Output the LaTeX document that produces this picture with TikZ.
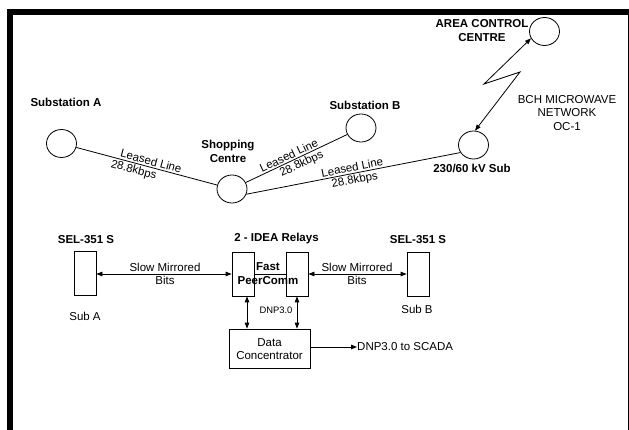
\documentclass[tikz,border=0pt]{standalone}
\usepackage{fontspec}
\setmainfont{Liberation Sans}
\usetikzlibrary{arrows.meta,shapes.geometric}
\begin{document}
\begin{tikzpicture}[x=1pt,y=-1pt,
  site/.style={draw, ellipse, minimum width=30pt, minimum height=28pt, inner sep=0pt, line width=0.8pt},
  lbl/.style={font=\fontsize{11.5}{13.5}\selectfont, align=center, inner sep=0pt},
  blbl/.style={font=\fontsize{11.5}{14}\selectfont\bfseries, align=center, inner sep=0pt},
  slbl/.style={font=\fontsize{9.4}{11}\selectfont, inner sep=0pt},
  relaybox/.style={draw, minimum width=22pt, minimum height=44pt, inner sep=0pt, line width=0.8pt},
  wire/.style={line width=0.8pt},
  dbl/.style={wire, {Triangle[length=6pt,width=4.5pt]}-{Triangle[length=6pt,width=4.5pt]}},
  arr/.style={wire, -{Triangle[length=6pt,width=4.5pt]}}
]
\useasboundingbox (0,0) rectangle (629,430);
\fill[white] (0,0) rectangle (629,430);
% frame
\fill[black] (7,9) rectangle (13,430);
\fill[black] (7,9) rectangle (629,15);
\fill[black] (627.5,9) rectangle (629,430);

% sites
\node[site] (A) at (61.5,143.5) {};
\node[site] (SC) at (232,189) {};
\node[site] (B) at (361,128) {};
\node[site] (S230) at (473.5,145) {};
\node[site] (ACC) at (544.5,31.5) {};

\node[blbl] (tA) at (66,102) {Substation A};
\node[blbl] (tSC) at (228,151) {Shopping\\Centre};
\node[blbl] (tB) at (365,105) {Substation B};
\node[blbl] (t230) at (472,168) {230/60 kV Sub};
\node[blbl] (tACC) at (482,30.5) {AREA CONTROL\\CENTRE};
\node[lbl] (tBCH) at (567,113) {BCH MICROWAVE\\NETWORK\\OC-1};

\draw[wire] (A) -- (SC)
  node[pos=0.52, sloped, lbl, above=1.5pt] {Leased Line}
  node[pos=0.42, sloped, lbl, below=1.5pt] {28.8kbps};
\draw[wire] (SC) -- (B)
  node[pos=0.45, sloped, lbl, above=1.5pt] {Leased Line}
  node[pos=0.52, sloped, lbl, below=1.5pt] {28.8kbps};
\draw[wire] (SC.-20) -- (S230.210)
  node[pos=0.5, sloped, lbl, above=1.5pt] {Leased Line}
  node[pos=0.5, sloped, lbl, below=1.5pt] {28.8kbps};

\coordinate (z1) at (484,84);
\coordinate (z2) at (520,72);
\draw[dbl] (ACC.207) -- (z1) -- (z2) -- (S230.84);

% lower part
\node[blbl] (selAt) at (86,240) {SEL-351 S};
\node[blbl] (selBt) at (418,240) {SEL-351 S};
\node[blbl] (idea) at (276.5,239) {2 - IDEA Relays};

\node[relaybox] (selA) at (85,273) {};
\node[relaybox] (relL) at (243,274) {};
\node[relaybox] (relR) at (297,274) {};
\node[relaybox] (selB) at (418,274) {};

\node[lbl] (subA) at (85,316) {Sub A};
\node[lbl] (subB) at (417,309) {Sub B};

\draw[dbl] (selA.east |- 0,274) -- (relL.west);
\draw[wire] (relL.east) -- (relR.west);
\draw[dbl] (relR.east) -- (selB.west);
\node[lbl] (smA) at (165,274) {Slow Mirrored\\Bits};
\node[lbl] (smB) at (357,274) {Slow Mirrored\\Bits};
\node[blbl] (fpc) at (268,274) {Fast\\PeerComm};

\node[draw, line width=0.8pt, minimum width=81pt, minimum height=39pt, inner sep=0pt] (dc) at (269.5,348.5) {};
\node[lbl] (dct) at (269.5,349) {Data\\Concentrator};

\draw[dbl] ([xshift=4pt]relL.south) -- ([xshift=4pt]relL.south |- dc.north);
\draw[dbl] (relR.south) -- (relR.south |- dc.north);
\node[slbl] (dnp) at (276,310) {DNP3.0};

\node[lbl, anchor=west] (scada) at (357,347) {DNP3.0 to SCADA};
\draw[arr] (dc.east |- scada.west) -- (scada.west);
\end{tikzpicture}
\end{document}
